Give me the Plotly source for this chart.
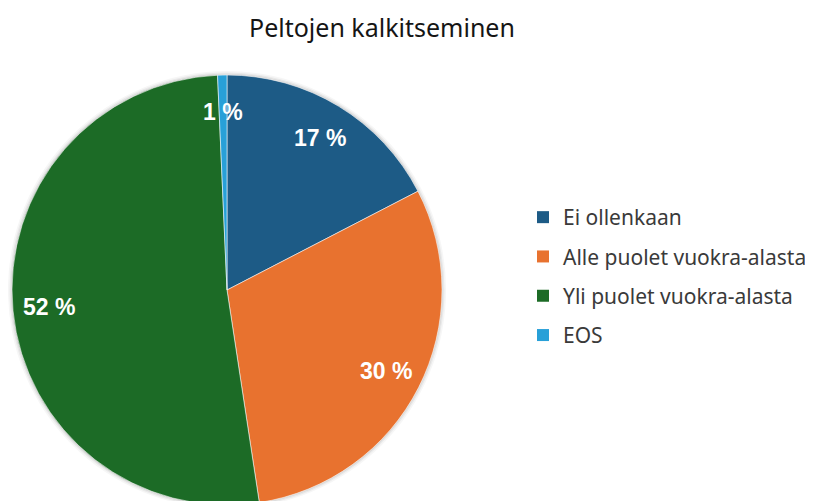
import math
import plotly.graph_objects as go

title = "Peltojen kalkitseminen"
labels = ["Ei ollenkaan", "Alle puolet vuokra-alasta", "Yli puolet vuokra-alasta", "EOS"]
values = [17.4, 30.2, 51.7, 0.7]
colors = ["#1d5b86", "#e8722f", "#1c6b26", "#28a0d8"]

W, H = 813, 501
# pie geometry in figure pixels (page body has an 8px margin)
CX, CY, R = 219, 282, 215


def dom(cx, cy, r):
    x0, x1 = max(0.0, (cx - r) / W), min(1.0, (cx + r) / W)
    y0, y1 = max(0.0, (H - cy - r) / H), min(1.0, (H - cy + r) / H)
    return dict(x=[x0, x1], y=[y0, y1])


fig = go.Figure()

# soft shadow around the pie
for extra, alpha in [(4, 0.035), (2.5, 0.05), (1.2, 0.07)]:
    fig.add_trace(go.Pie(
        values=[1], labels=["shadow"], marker=dict(colors=[f"rgba(0,0,0,{alpha})"]),
        textinfo="none", hoverinfo="skip", showlegend=False, sort=False,
        domain=dom(CX, CY, R + extra),
    ))

fig.add_trace(go.Pie(
    labels=labels, values=values, sort=False, direction="clockwise", rotation=0,
    marker=dict(colors=colors, line=dict(color="rgba(255,255,255,0.55)", width=1)),
    textinfo="none", hoverinfo="label+percent", showlegend=False,
    domain=dom(CX, CY, R),
))

# legend entries via invisible scatter traces (allows vertical gap between entries)
for i, (lab, col) in enumerate(zip(labels, colors)):
    fig.add_trace(go.Scatter(
        x=[None], y=[None], mode="markers", name=lab, legendgroup=f"g{i}",
        marker=dict(symbol="square", size=12, color=col),
    ))

# percentage labels placed along each slice's mid-angle
total = sum(values)
cum = 0.0
for v in values:
    mid = (cum + v / 2) / total * 2 * math.pi
    cum += v
    px = CX + 0.83 * R * math.sin(mid)
    py = CY - 0.83 * R * math.cos(mid)
    fig.add_annotation(
        x=px / W, y=1 - py / H, xref="paper", yref="paper", showarrow=False,
        text=f"<b>{round(v / total * 100)} %</b>",
        font=dict(family="Liberation Sans, Arial", size=23, color="white"),
        xanchor="center", yanchor="middle",
    )

fig.update_layout(
    width=W, height=H, margin=dict(l=0, r=0, t=0, b=0),
    paper_bgcolor="white", plot_bgcolor="white",
    title=dict(text=title, x=374 / W, xanchor="center", y=1 - 20 / H, yanchor="middle",
               yref="container",
               font=dict(family="Noto Sans, Open Sans", size=25, color="#151515")),
    xaxis=dict(visible=False), yaxis=dict(visible=False),
    legend=dict(x=515 / W, xanchor="left", y=1 - 189 / H, yanchor="top",
                tracegroupgap=9,
                font=dict(family="Noto Sans, Open Sans", size=21, color="#3a3a3a")),
)

fig.write_html("out.html")
